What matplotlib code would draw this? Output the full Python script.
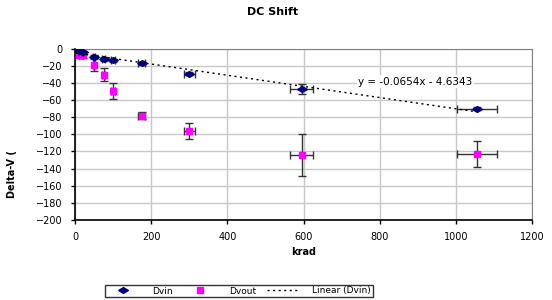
import numpy as np
from matplotlib import pyplot as plt
from matplotlib.lines import Line2D

plt.rcParams['font.family'] = ['DejaVu Sans']

# krad doses
dvin_x = [0, 10, 20, 50, 75, 100, 175, 300, 595, 1055]
dvin_y = [0, -3, -4, -9, -12, -13.5, -17, -29, -47, -70]
dvin_yerr = [1, 1.5, 1.5, 2, 2, 2, 2, 2, 5.5, 2]

dvout_x = [0, 10, 20, 50, 75, 100, 175, 300, 595, 1055]
dvout_y = [0, -7, -7, -19, -30, -49, -78, -96, -124, -123]
dvout_yerr = [1, 4, 4, 7, 8, 9.5, 4, 9, 25, 15.5]

slope = -0.0654
intercept = -4.6343

# flattened diamond like the excel marker
diamond = [(-1, 0), (0, 0.6), (1, 0), (0, -0.6), (-1, 0)]

fig = plt.figure(figsize=(5.52, 3.0), dpi=100)
ax = fig.add_axes([0.136, 0.267, 0.828, 0.57])

xerr_in = [0.05 * v for v in dvin_x]
xerr_out = [0.05 * v for v in dvout_x]

ax.errorbar(dvout_x, dvout_y, yerr=dvout_yerr, xerr=xerr_out, fmt='s', color='#FF00FF',
            ms=5, ecolor='#333333', elinewidth=1, capsize=3, zorder=3)
ax.errorbar(dvin_x, dvin_y, yerr=dvin_yerr, xerr=xerr_in, fmt='none',
            ecolor='#333333', elinewidth=1, capsize=3, zorder=4)
ax.plot(dvin_x, dvin_y, ls='none', marker=diamond, color='#000080', ms=7, zorder=4)

tx = np.array([0, max(dvin_x)])
ax.plot(tx, slope * tx + intercept, color='black', lw=1, ls=(0, (1.5, 2.5)), zorder=5)
ax.text(743, -38.5, 'y = -0.0654x - 4.6343', fontsize=7.5, va='center', ha='left',
        bbox=dict(facecolor='white', edgecolor='none', pad=1), zorder=6)

ax.set_xlim(0, 1200)
ax.set_ylim(-200, 0)
ax.set_xticks(np.arange(0, 1201, 200))
ax.set_yticks(np.arange(-200, 1, 20))
ax.tick_params(labelsize=7, length=3, width=1, direction='out', pad=6)
ax.grid(True, color='#c8c8c8', lw=1)
ax.set_axisbelow(True)
for s in ['top', 'right']:
    ax.spines[s].set_color('#808080')
for s in ['left', 'bottom']:
    ax.spines[s].set_color('black')
    ax.spines[s].set_linewidth(1.2)

ax.set_xlabel('krad', fontsize=7, fontweight='bold', labelpad=3)
fig.text(0.022, 0.42, 'Delta-V (', rotation=90, fontsize=7, fontweight='bold', va='center', ha='center')
fig.text(0.493, 0.96, 'DC Shift', fontsize=8, fontweight='bold', ha='center', va='center')

handles = [Line2D([], [], marker=diamond, color='#000080', ls='none', ms=7),
           Line2D([], [], marker='s', color='#FF00FF', ls='none', ms=5),
           Line2D([], [], color='black', lw=1, ls=(0, (1.5, 2.5)))]
fig.legend(handles, ['Dvin', 'Dvout', 'Linear (Dvin)'], loc='center', bbox_to_anchor=(0.433, 0.03),
           ncol=3, fontsize=6.5, frameon=True, fancybox=False, edgecolor='black',
           borderpad=0.2, handlelength=3.5, columnspacing=1.2, handletextpad=1.5)

fig.savefig('out.png', dpi=100)
